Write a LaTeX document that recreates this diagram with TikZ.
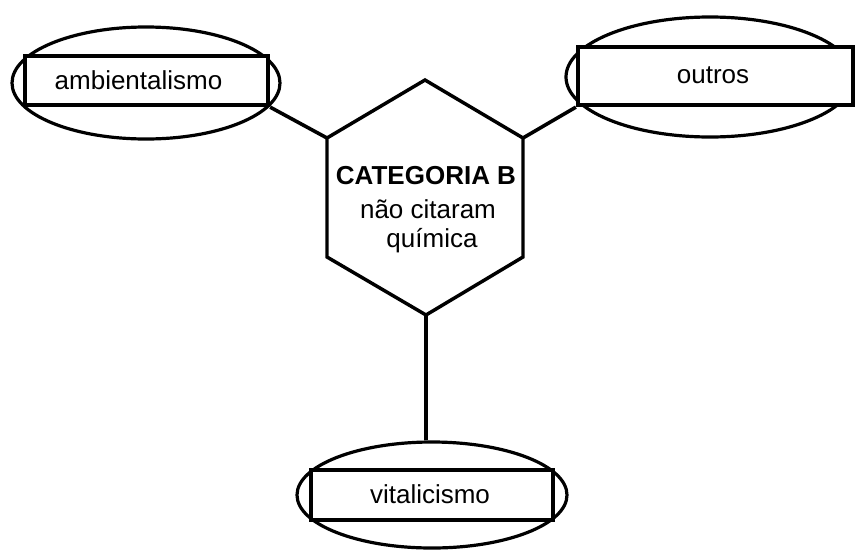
\documentclass[tikz,border=0pt]{standalone}
\usepackage{fontspec}
\setmainfont{Liberation Sans}
\usetikzlibrary{shapes.geometric}
\begin{document}
\begin{tikzpicture}[x=0.75pt,y=-0.75pt,
  oval/.style={draw, ellipse, line width=2.4pt, inner sep=0pt},
  box/.style={draw, rectangle, fill=white, line width=3.2pt, inner sep=0pt},
  lbl/.style={anchor=base, inner sep=0pt, font=\fontsize{19.5pt}{23pt}\selectfont},
  link/.style={line width=2.7pt},
  hexline/.style={line width=2.6pt, line join=miter}]
\useasboundingbox (0,0) rectangle (855,550);
% ellipses
\node[oval, minimum width=201pt, minimum height=84pt] (ambE) at (146,83) {};
\node[oval, minimum width=216pt, minimum height=90pt] (outE) at (710,77) {};
\node[oval, minimum width=202.5pt, minimum height=79.5pt] (vitE) at (432,495) {};
% boxes
\node[box, minimum width=182.25pt, minimum height=36.75pt] (ambR) at (146.5,80.5) {};
\node[box, minimum width=206.25pt, minimum height=43.5pt] (outR) at (715.5,76) {};
\node[box, minimum width=181.5pt, minimum height=37.5pt] (vitR) at (432,495) {};
% labels
\node[lbl] (ambT) at (138.5,89) {ambientalismo};
\node[lbl] (outT) at (713,83) {outros};
\node[lbl] (vitT) at (430,503) {vitalicismo};
% hexagon
\coordinate (hT) at (425,80);
\coordinate (hUR) at (523,138);
\coordinate (hLR) at (523,257);
\coordinate (hB) at (426,315);
\coordinate (hLL) at (327,257);
\coordinate (hUL) at (327,138);
\draw[hexline] (hT) -- (hUR) -- (hLR) -- (hB) -- (hLL) -- (hUL) -- cycle;
\node[lbl, font=\fontsize{19.5pt}{23pt}\selectfont\bfseries] (c1) at (426,184) {CATEGORIA B};
\node[lbl] (c2) at (428,218) {não citaram};
\node[lbl] (c3) at (432,247) {química};
% connectors
\draw[link] (hUL) -- (ambR.south east);
\draw[link] (hUR) -- (outR.south west);
\draw[link] (hB) -- (hB |- vitE.north);
\end{tikzpicture}
\end{document}
